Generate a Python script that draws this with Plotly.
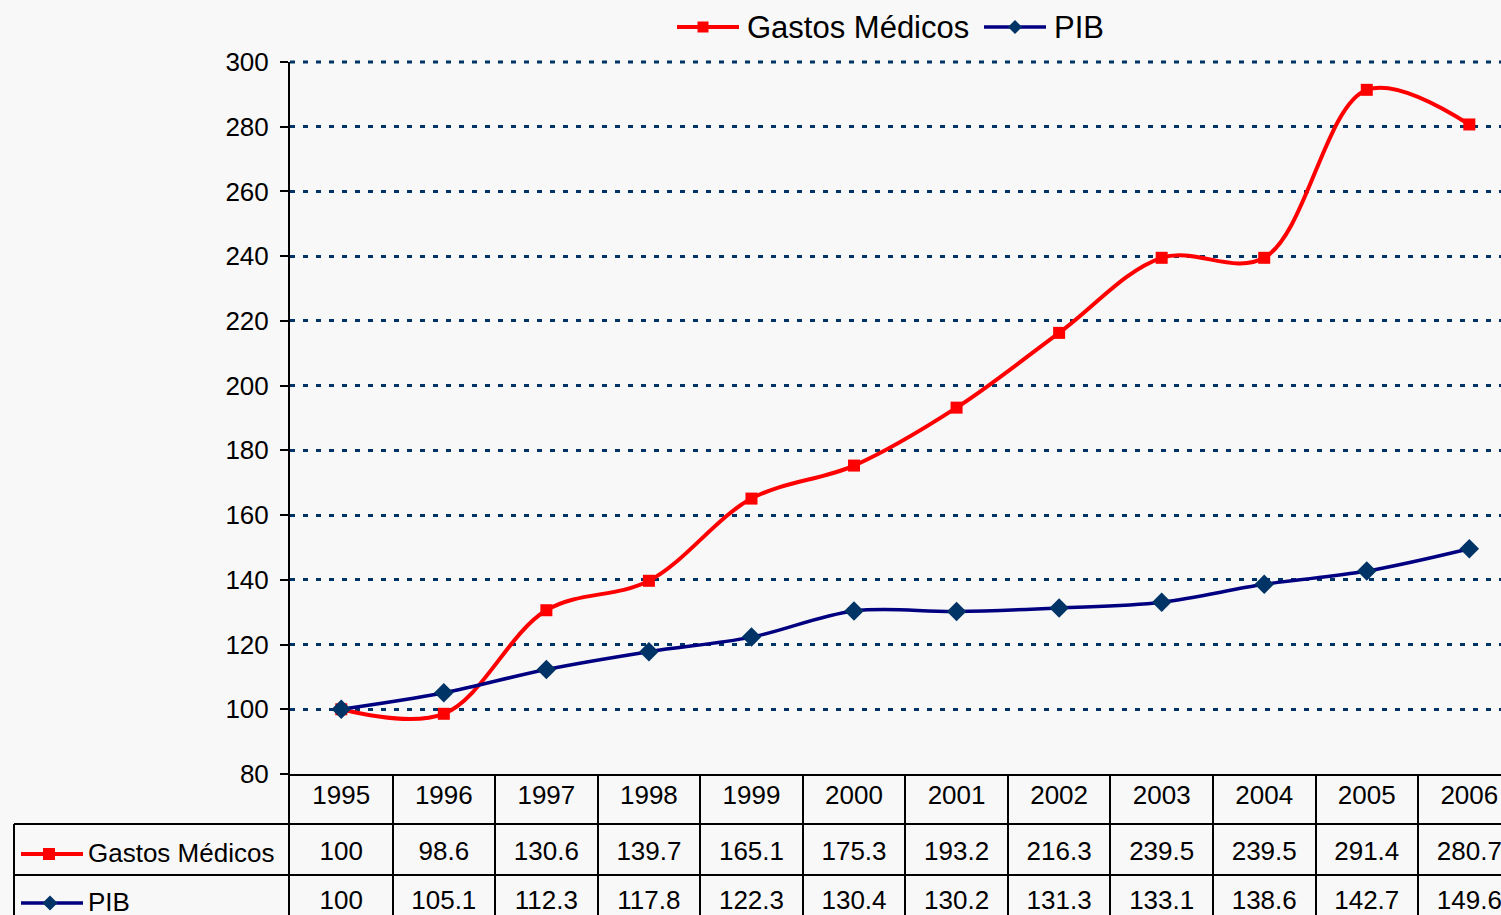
import plotly.graph_objects as go

# -----------------------------------------
# Data
# -----------------------------------------
years = ["1995", "1996", "1997", "1998", "1999", "2000",
         "2001", "2002", "2003", "2004", "2005", "2006"]
gastos = [100, 98.6, 130.6, 139.7, 165.1, 175.3, 193.2, 216.3, 239.5, 239.5, 291.4, 280.7]
pib = [100, 105.1, 112.3, 117.8, 122.3, 130.4, 130.2, 131.3, 133.1, 138.6, 142.7, 149.6]
gastos_txt = ["100", "98.6", "130.6", "139.7", "165.1", "175.3", "193.2", "216.3",
              "239.5", "239.5", "291.4", "280.7"]
pib_txt = ["100", "105.1", "112.3", "117.8", "122.3", "130.4", "130.2", "131.3",
           "133.1", "138.6", "142.7", "149.6"]
series_names = ["Gastos Médicos", "PIB"]

RED = "#FF0000"
NAVY = "#000080"
DIAMOND = "#003366"
BG = "#F8F8F8"
FONT = "Liberation Sans, Arial, sans-serif"

W, H = 1501, 915
L, T = 290, 62
TABLE_TOP = 774


def px_x(p):
    return (p - L) / (W - L)


def px_y(p):
    return (H - p) / (H - T)


fig = go.Figure()

# -----------------------------------------
# Lines
# -----------------------------------------
fig.add_trace(go.Scatter(
    x=years, y=gastos, name=series_names[0], mode="lines+markers",
    line=dict(color=RED, width=4, shape="spline", smoothing=1),
    marker=dict(symbol="square", size=12, color=RED),
    xaxis="x", yaxis="y", showlegend=False
))
fig.add_trace(go.Scatter(
    x=years, y=pib, name=series_names[1], mode="lines+markers",
    line=dict(color=NAVY, width=3.5, shape="spline", smoothing=1),
    marker=dict(symbol="diamond", size=15, color=DIAMOND),
    xaxis="x", yaxis="y", showlegend=False
))

# -----------------------------------------
# Data table (below the plot)
# -----------------------------------------
tfont = dict(family=FONT, size=26, color="black")
fig.add_trace(go.Scatter(x=years, y=[23] * len(years), text=years, mode="text",
                         textfont=tfont, xaxis="x2", yaxis="y2",
                         showlegend=False, hoverinfo="skip"))
fig.add_trace(go.Scatter(x=years, y=[79] * len(years), text=gastos_txt, mode="text",
                         textfont=tfont, xaxis="x2", yaxis="y2",
                         showlegend=False, hoverinfo="skip"))
fig.add_trace(go.Scatter(x=years, y=[128] * len(years), text=pib_txt, mode="text",
                         textfont=tfont, xaxis="x2", yaxis="y2",
                         showlegend=False, hoverinfo="skip"))

shapes = []
line_k = dict(color="black", width=2)
# top gridline (plotly skips the grid line on the range edge)
shapes.append(dict(type="line", xref="paper", yref="paper", x0=0, x1=1, y0=1, y1=1,
                   line=dict(color=DIAMOND, width=3, dash="5px,8px")))
# horizontal row borders extending into the label column
for yp in (824, 875):
    shapes.append(dict(type="line", xref="paper", yref="paper",
                       x0=px_x(14), x1=1, y0=px_y(yp), y1=px_y(yp), line=line_k))
shapes.append(dict(type="line", xref="paper", yref="paper",
                   x0=px_x(14), x1=px_x(14), y0=px_y(824), y1=px_y(H + 20), line=line_k))


def key(xl, xr, xc, yc, color, mcolor, symbol, size, lw):
    out = [dict(type="line", xref="paper", yref="paper",
                x0=px_x(xl), x1=px_x(xr), y0=px_y(yc), y1=px_y(yc),
                line=dict(color=color, width=lw))]
    s = size / 2
    if symbol == "square":
        out.append(dict(type="rect", xref="paper", yref="paper",
                        x0=px_x(xc - s), x1=px_x(xc + s), y0=px_y(yc + s), y1=px_y(yc - s),
                        fillcolor=mcolor, line=dict(width=0)))
    else:
        path = "M{},{} L{},{} L{},{} L{},{} Z".format(
            px_x(xc - s), px_y(yc), px_x(xc), px_y(yc - s),
            px_x(xc + s), px_y(yc), px_x(xc), px_y(yc + s))
        out.append(dict(type="path", xref="paper", yref="paper", path=path,
                        fillcolor=mcolor, line=dict(width=0)))
    return out


# table keys
shapes += key(21, 83, 49, 854, RED, RED, "square", 12, 4)
shapes += key(21, 83, 50, 903, NAVY, DIAMOND, "diamond", 15, 3.5)
# top legend keys
shapes += key(677, 739, 703, 27, RED, RED, "square", 11, 4)
shapes += key(984, 1046, 1015, 27, NAVY, DIAMOND, "diamond", 14, 3.5)

annotations = [
    dict(text=series_names[0], xref="paper", yref="paper", x=px_x(86), y=px_y(853),
         xanchor="left", yanchor="middle", showarrow=False, font=tfont),
    dict(text=series_names[1], xref="paper", yref="paper", x=px_x(86), y=px_y(902),
         xanchor="left", yanchor="middle", showarrow=False, font=tfont),
    dict(text=series_names[0], xref="paper", yref="paper", x=px_x(745), y=px_y(27),
         xanchor="left", yanchor="middle", showarrow=False,
         font=dict(family=FONT, size=31, color="black")),
    dict(text=series_names[1], xref="paper", yref="paper", x=px_x(1052), y=px_y(27),
         xanchor="left", yanchor="middle", showarrow=False,
         font=dict(family=FONT, size=31, color="black")),
]

split = (H - TABLE_TOP) / (H - T)
xr = [-0.5, -0.5 + (W - L) / 102.55]

fig.update_layout(
    width=W, height=H,
    margin=dict(l=L, r=0, t=T, b=0, autoexpand=False),
    paper_bgcolor=BG, plot_bgcolor=BG,
    font=dict(family=FONT, color="black"),
    showlegend=False,
    shapes=shapes,
    annotations=annotations,
    xaxis=dict(type="category", range=xr, domain=[0, 1], anchor="y",
               showticklabels=False, ticks="", showgrid=False,
               showline=True, linecolor="black", linewidth=2),
    yaxis=dict(range=[80, 300], domain=[split, 1], anchor="x", dtick=20,
               tick0=80, showgrid=True, gridcolor=DIAMOND, gridwidth=3,
               griddash="5px,8px", zeroline=False,
               showline=True, linecolor="black", linewidth=2,
               ticks="outside", ticklen=8, tickwidth=2, tickcolor="black",
               ticklabelstandoff=6,
               tickfont=dict(family=FONT, size=26, color="black")),
    xaxis2=dict(type="category", matches="x", anchor="y2", domain=[0, 1],
                showticklabels=False, ticks="", tickson="boundaries",
                showgrid=True, gridcolor="black", gridwidth=2,
                showline=False, zeroline=False),
    yaxis2=dict(range=[H - TABLE_TOP, 0], domain=[0, split], anchor="x2",
                showticklabels=False, ticks="", showgrid=False, zeroline=False,
                showline=True, linecolor="black", linewidth=2),
)

fig.write_html("out.html",
               config={"displayModeBar": False},
               post_script="document.body.style.margin='0';"
                           "document.body.style.overflow='hidden';")
